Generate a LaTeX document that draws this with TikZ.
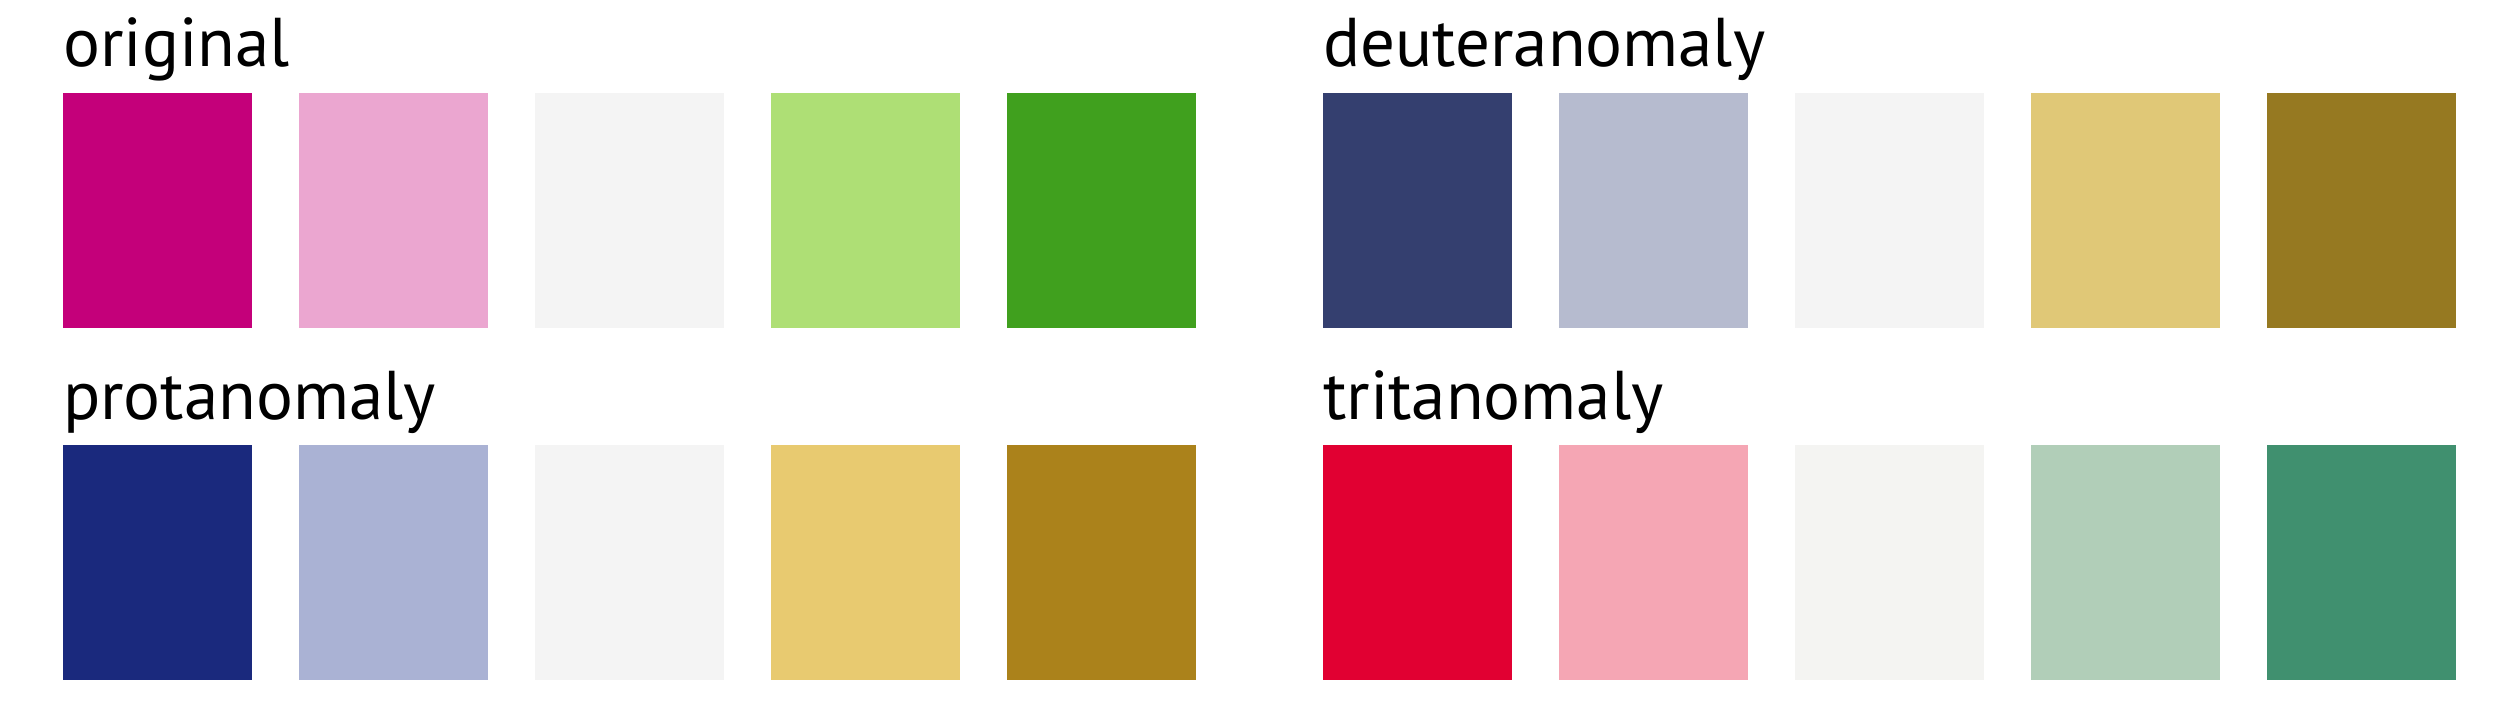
\documentclass[tikz,border=0pt]{standalone}
\usepackage{fontspec}
\setmainfont{PT Sans}
\definecolor{oA}{HTML}{C4007A}
\definecolor{oB}{HTML}{EBA6D0}
\definecolor{oC}{HTML}{F4F4F4}
\definecolor{oD}{HTML}{AEDF75}
\definecolor{oE}{HTML}{40A01E}
\definecolor{dA}{HTML}{343F6F}
\definecolor{dB}{HTML}{B6BBCF}
\definecolor{dC}{HTML}{F4F4F4}
\definecolor{dD}{HTML}{E0C877}
\definecolor{dE}{HTML}{967921}
\definecolor{pA}{HTML}{1A297D}
\definecolor{pB}{HTML}{AAB2D4}
\definecolor{pC}{HTML}{F4F4F4}
\definecolor{pD}{HTML}{E8CA70}
\definecolor{pE}{HTML}{AB821B}
\definecolor{tA}{HTML}{E10032}
\definecolor{tB}{HTML}{F5A6B4}
\definecolor{tC}{HTML}{F4F4F2}
\definecolor{tD}{HTML}{B1CEB8}
\definecolor{tE}{HTML}{40906F}
\tikzset{
  swatch/.style={rectangle, draw=none, inner sep=0pt, minimum width=189pt, minimum height=235pt, anchor=north west},
  title/.style={anchor=base west, inner sep=0pt, font=\fontsize{69}{78}\selectfont, text=black}
}
\begin{document}
\begin{tikzpicture}[x=1pt,y=-1pt]
\useasboundingbox (0,0) rectangle (2520,705);
\node[title] (tO) at (63,66) {original};
\node[title] (tD) at (1323,66) {deuteranomaly};
\node[title] (tP) at (63,419) {protanomaly};
\node[title] (tT) at (1323,419) {tritanomaly};
\foreach \c/\x in {A/0,B/1,C/2,D/3,E/4}{
  \node[swatch, fill=o\c] (o\c) at (63+236*\x,93) {};
  \node[swatch, fill=d\c] (d\c) at (1323+236*\x,93) {};
  \node[swatch, fill=p\c] (p\c) at (63+236*\x,445) {};
  \node[swatch, fill=t\c] (t\c) at (1323+236*\x,445) {};
}
\end{tikzpicture}
\end{document}
